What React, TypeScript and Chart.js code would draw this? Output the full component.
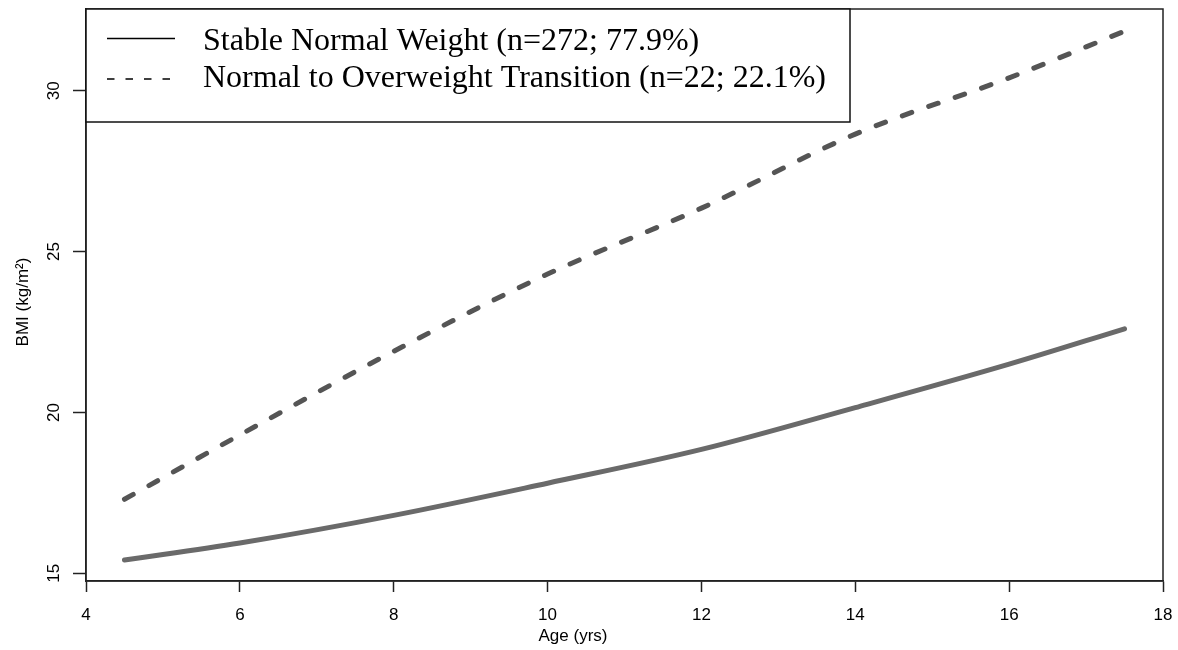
import React, { useEffect, useRef } from 'react';
import { Chart, registerables } from 'chart.js';

Chart.register(...registerables);

// ---- Data ----
const ages = [4.5, 6, 8, 10, 12, 14, 16, 17.5];
const stableNormal = [15.41, 15.94, 16.8, 17.8, 18.85, 20.15, 21.5, 22.6];
const normalToOverweight = [17.3, 19.3, 21.9, 24.3, 26.35, 28.65, 30.4, 31.85];
const xTicks = [4, 6, 8, 10, 12, 14, 16, 18];
const yTicks = [15, 20, 25, 30];
const seriesLabels = [
  'Stable Normal Weight (n=272; 77.9%)',
  'Normal to Overweight Transition (n=22; 22.1%)',
];
const xTitle = 'Age (yrs)';
const yTitle = 'BMI (kg/m²)';

const SANS = '"Liberation Sans", Arial, Helvetica, sans-serif';
const SERIF = '"Liberation Serif", "Times New Roman", serif';

const boxAndLegend = {
  id: 'boxAndLegend',
  afterDraw(chart: any) {
    const { ctx, chartArea: a } = chart;
    ctx.save();
    // plot box
    ctx.strokeStyle = '#222';
    ctx.lineWidth = 1.5;
    ctx.strokeRect(a.left, a.top, a.right - a.left, a.bottom - a.top);

    // legend box
    const lx = a.left;
    const ly = a.top;
    const lw = 764;
    const lh = 113;
    ctx.fillStyle = '#fff';
    ctx.fillRect(lx, ly, lw, lh);
    ctx.strokeStyle = '#111';
    ctx.lineWidth = 1.5;
    ctx.strokeRect(lx, ly, lw, lh);

    const rows = [
      { sampleY: ly + 29.5, baseY: ly + 40.5, dash: [] as number[], len: 68 },
      { sampleY: ly + 70, baseY: ly + 78, dash: [7.5, 11], len: 64 },
    ];
    chart.data.datasets.forEach((ds: any, i: number) => {
      const r = rows[i];
      ctx.beginPath();
      ctx.setLineDash(r.dash);
      ctx.strokeStyle = '#000';
      ctx.lineWidth = 1.5;
      ctx.moveTo(lx + 21, r.sampleY);
      ctx.lineTo(lx + 21 + r.len, r.sampleY);
      ctx.stroke();
      ctx.setLineDash([]);
      ctx.fillStyle = '#000';
      ctx.font = `32px ${SERIF}`;
      ctx.textAlign = 'left';
      ctx.textBaseline = 'alphabetic';
      ctx.fillText(ds.label, lx + 117, r.baseY);
    });

    // axis titles
    ctx.fillStyle = '#000';
    ctx.font = `17px ${SANS}`;
    ctx.textAlign = 'center';
    ctx.textBaseline = 'alphabetic';
    ctx.fillText(xTitle, 573, 641);

    ctx.translate(28, 302);
    ctx.rotate(-Math.PI / 2);
    ctx.fillText(yTitle, 0, 0);
    ctx.restore();
  },
};

export default function App() {
  const ref = useRef<HTMLCanvasElement | null>(null);

  useEffect(() => {
    document.body.style.margin = '0';
    const canvas = ref.current;
    if (!canvas) return;
    const chart = new Chart(canvas, {
      type: 'line',
      data: {
        datasets: [
          {
            label: seriesLabels[0],
            data: ages.map((x, i) => ({ x, y: stableNormal[i] })),
            borderColor: '#6a6a6a',
            borderWidth: 5,
            pointRadius: 0,
            fill: false,
            cubicInterpolationMode: 'monotone',
            borderCapStyle: 'round',
          },
          {
            label: seriesLabels[1],
            data: ages.map((x, i) => ({ x, y: normalToOverweight[i] })),
            borderColor: '#555555',
            borderWidth: 5,
            borderDash: [10, 18],
            pointRadius: 0,
            fill: false,
            cubicInterpolationMode: 'monotone',
            borderCapStyle: 'round',
          },
        ],
      },
      options: {
        responsive: false,
        animation: false,
        devicePixelRatio: 1,
        layout: { padding: { top: 9, right: 15, left: 0, bottom: 0 } },
        plugins: {
          legend: { display: false },
          tooltip: { enabled: false },
        },
        scales: {
          x: {
            type: 'linear',
            min: 4,
            max: 18,
            afterBuildTicks: (s: any) => {
              s.ticks = xTicks.map((v) => ({ value: v }));
            },
            afterFit: (s: any) => {
              s.height = 69;
              s.paddingLeft = 0;
              s.paddingRight = 0;
              s.paddingTop = 0;
              s.paddingBottom = 0;
            },
            grid: {
              display: true,
              drawOnChartArea: false,
              drawTicks: true,
              tickLength: 11,
              tickColor: '#222',
              tickWidth: 1.5,
            },
            border: { display: true, color: '#222', width: 1.5 },
            ticks: {
              color: '#000',
              font: { family: SANS, size: 17 },
              padding: 13,
              maxRotation: 0,
              autoSkip: false,
            },
            title: { display: false, text: xTitle },
          },
          y: {
            type: 'linear',
            min: 14.76,
            max: 32.54,
            afterBuildTicks: (s: any) => {
              s.ticks = yTicks.map((v) => ({ value: v }));
            },
            afterFit: (s: any) => {
              s.width = 86;
              s.paddingLeft = 0;
              s.paddingRight = 0;
              s.paddingTop = 0;
              s.paddingBottom = 0;
            },
            grid: {
              display: true,
              drawOnChartArea: false,
              drawTicks: true,
              tickLength: 13,
              tickColor: '#222',
              tickWidth: 1.5,
            },
            border: { display: true, color: '#222', width: 1.5 },
            ticks: {
              color: '#000',
              font: { family: SANS, size: 17 },
              padding: 9,
              minRotation: 90,
              maxRotation: 90,
              crossAlign: 'center',
              autoSkip: false,
            },
            title: { display: false, text: yTitle },
          },
        },
      },
      plugins: [boxAndLegend],
    } as any);
    return () => chart.destroy();
  }, []);

  return (
    <div style={{ width: 1178, height: 650, background: '#fff' }}>
      <canvas ref={ref} width={1178} height={650} style={{ display: 'block' }} />
    </div>
  );
}
